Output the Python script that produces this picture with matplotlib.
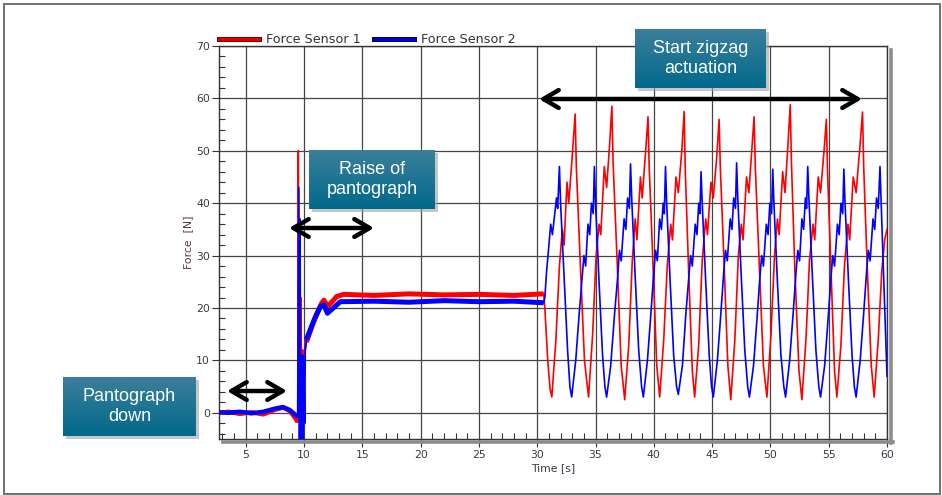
import numpy as np
import matplotlib
matplotlib.use('Agg')
import matplotlib.pyplot as plt
import matplotlib.patheffects as pe
from matplotlib.lines import Line2D
from matplotlib.patches import Rectangle, FancyArrowPatch
from matplotlib.colors import LinearSegmentedColormap

# Force Sensor 1 (red): time [s], force [N]
red_t = [2.7, 3.5, 4.5, 5.5, 6.5, 7.5, 8.2, 8.8, 9.3, 9.45,
         9.5, 9.55, 9.6, 9.66, 9.72, 9.8, 9.88, 9.95, 10.05, 10.2,
         10.6, 11.0, 11.5, 11.7, 12.0, 12.4, 12.8, 13.4,
         16.0, 19.0, 22.0, 25.0, 28.0, 30.55,
         30.65, 30.9, 31.1, 31.25,
         31.6, 31.9, 32.15, 32.3, 32.55, 32.7, 33.0, 33.25, 33.35, 33.7, 34.05, 34.4,
         34.75, 35.05, 35.3, 35.45, 35.75, 35.95, 36.2, 36.4, 36.5, 36.85, 37.2, 37.5,
         37.85, 38.15, 38.4, 38.55, 38.85, 39.0, 39.3, 39.5, 39.6, 39.95, 40.25, 40.5,
         40.85, 41.15, 41.45, 41.6, 41.9, 42.1, 42.4, 42.6, 42.7, 43.0, 43.3, 43.5,
         43.85, 44.15, 44.45, 44.6, 44.9, 45.1, 45.4, 45.6, 45.7, 46.05, 46.35, 46.6,
         46.95, 47.25, 47.5, 47.65, 47.95, 48.15, 48.4, 48.6, 48.7, 49.05, 49.4, 49.7,
         50.05, 50.35, 50.6, 50.75, 51.05, 51.25, 51.5, 51.7, 51.8, 52.1, 52.45, 52.7,
         53.05, 53.35, 53.65, 53.8, 54.1, 54.3, 54.6, 54.8, 54.9, 55.2, 55.5, 55.7,
         56.05, 56.35, 56.65, 56.8, 57.1, 57.35, 57.65, 57.9, 58.0, 58.3, 58.65, 58.9,
         59.25, 59.55, 59.8, 60.0]
red_f = [0.0, 0.2, -0.2, 0.1, -0.3, 0.6, 1.0, 0.3, -1.2, -1.8,
         50, 8, 30, -3, 22, 3, 12, 9, 11, 13.5,
         16, 18.5, 20.9, 21.5, 20.3, 21.2, 22.2, 22.6,
         22.4, 22.7, 22.5, 22.6, 22.4, 22.7,
         20, 10, 4.5, 3,
         14, 28, 35, 32, 44, 40, 49, 57, 47, 28, 10, 3,
         15, 30, 36, 34, 47, 43, 51, 58.5, 48, 29, 9, 2.5,
         13, 29, 37, 33, 45, 41, 50, 56.5, 47, 27, 9, 3,
         14, 28, 36, 33, 45, 42, 50, 57.5, 46, 26, 8, 3,
         13, 29, 37, 34, 44, 41, 49, 56, 47, 27, 9, 2.5,
         14, 30, 36, 33, 45, 42, 50, 56.5, 47, 28, 9, 3,
         15, 30, 37, 34, 46, 42, 51, 58.8, 48, 27, 8, 2.5,
         14, 29, 36, 33, 45, 42, 50, 56, 46, 27, 8, 3,
         13, 28, 36, 33, 45, 42, 50, 57.4, 47, 28, 9, 3,
         14, 27, 33, 35]

# Force Sensor 2 (blue)
blue_t = [2.7, 3.5, 4.5, 5.5, 6.5, 7.5, 8.2, 8.8, 9.2, 9.45,
          9.55, 9.6, 9.65, 9.72, 9.78, 9.83, 9.88, 9.93, 9.98, 10.05, 10.1, 10.2,
          10.8, 11.4, 11.7, 12.0, 12.5, 13.1,
          16.0, 19.0, 22.0, 25.0, 28.0, 30.55,
          30.65, 30.8, 31.0, 31.15, 31.3, 31.5, 31.65, 31.75, 31.9, 32.0, 32.3, 32.6, 32.8, 32.95,
          33.3, 33.6, 33.85, 34.0, 34.15, 34.35, 34.5, 34.65, 34.8, 34.9, 35.0, 35.3, 35.6, 35.8, 35.95,
          36.3, 36.6, 36.9, 37.05, 37.2, 37.45, 37.6, 37.75, 37.9, 38.0, 38.1, 38.4, 38.7, 38.95, 39.1,
          39.45, 39.75, 40.0, 40.15, 40.3, 40.5, 40.65, 40.8, 40.9, 41.0, 41.1, 41.4, 41.7, 41.95, 42.1,
          42.45, 42.75, 43.0, 43.15, 43.3, 43.55, 43.7, 43.85, 43.95, 44.05, 44.15, 44.45, 44.75, 44.95, 45.1,
          45.45, 45.75, 46.0, 46.15, 46.3, 46.55, 46.7, 46.85, 47.0, 47.1, 47.2, 47.5, 47.8, 48.05, 48.2,
          48.55, 48.85, 49.1, 49.25, 49.4, 49.65, 49.8, 49.95, 50.1, 50.2, 50.3, 50.6, 50.9, 51.15, 51.3,
          51.65, 51.95, 52.2, 52.35, 52.5, 52.7, 52.85, 53.0, 53.1, 53.2, 53.3, 53.6, 53.9, 54.15, 54.3,
          54.65, 54.95, 55.2, 55.35, 55.5, 55.75, 55.9, 56.05, 56.2, 56.3, 56.4, 56.7, 57.0, 57.2, 57.35,
          57.7, 58.0, 58.25, 58.4, 58.55, 58.8, 58.95, 59.1, 59.25, 59.4, 59.5, 59.8, 60.0]
blue_f = [0.1, 0.0, 0.2, -0.1, 0.2, 0.8, 1.1, 0.5, -0.3, -0.8,
          43, -5.5, 37, -6, 11, -6, 11, -6, 10, -2, 12, 14,
          17.4, 20.3, 20.6, 19.0, 20.0, 21.2,
          21.3, 21.1, 21.4, 21.2, 21.3, 21.0,
          22, 27, 32, 36, 34, 38, 41, 39, 47, 40, 26, 12, 5, 3,
          10, 19, 26, 30, 28, 36, 34, 40, 38, 47, 40, 25, 11, 5, 3,
          9, 18, 26, 31, 29, 37, 35, 41, 39, 47.5, 41, 26, 12, 5, 3,
          10, 19, 27, 31, 29, 37, 35, 40, 38, 47, 40, 25, 11, 5, 3.5,
          9, 19, 26, 30, 28, 36, 34, 40, 38, 46, 40, 25, 11, 5, 3,
          10, 19, 27, 31, 29, 37, 35, 41, 39, 47.7, 41, 26, 12, 5, 3,
          9, 18, 26, 30, 28, 36, 34, 40, 38, 46.5, 40, 25, 11, 5, 3,
          10, 19, 27, 31, 29, 37, 35, 41, 39, 47, 41, 26, 12, 5, 3,
          9, 18, 26, 30, 28, 36, 34, 40, 38, 46.5, 40, 25, 11, 5, 3,
          10, 19, 27, 31, 29, 37, 35, 41, 39, 47, 40, 20, 7]

W, H = 942, 495


def fx(x):
    return x / W


def fy(y):
    return 1 - y / H


fig = plt.figure(figsize=(W / 100, H / 100), dpi=100)
fig.patch.set_facecolor('white')
ax = fig.add_axes([fx(219), fy(439), fx(887) - fx(219), fy(46) - fy(439)])

rt, rf = np.array(red_t), np.array(red_f)
bt, bf = np.array(blue_t), np.array(blue_f)

# thin line for the whole signal, thicker line where the noise band is
for t, f, c in [(rt, rf, '#ff0000'), (bt, bf, '#0000ff')]:
    ax.plot(t, f, color=c, lw=1.2, zorder=3)
    m1 = t <= 9.46
    m2 = (t >= 10.2) & (t <= 30.56)
    ax.plot(t[m1], f[m1], color=c, lw=3.2, zorder=3, solid_capstyle='butt')
    ax.plot(t[m2], f[m2], color=c, lw=3.6, zorder=3, solid_capstyle='butt')

ax.set_xlim(2.7, 60)
ax.set_ylim(-5, 70)
ax.set_xticks(np.arange(5, 61, 5))
ax.set_yticks(np.arange(0, 71, 10))
ax.set_xticks(np.arange(3, 60, 1), minor=True)
ax.set_yticks(np.arange(-4, 70, 2), minor=True)
ax.grid(True, which='major', color='#454545', lw=0.9, zorder=1)
ax.set_axisbelow(True)

ax.tick_params(which='major', direction='out', length=5, width=0.8,
               color='#333333', labelsize=7.8, labelcolor='#3a3a48', pad=1.5)
ax.tick_params(which='minor', direction='in', length=4, width=0.8, color='#333333')
ax.tick_params(axis='x', which='major', length=6, pad=2)

for s in ax.spines.values():
    s.set_color('#333333')
    s.set_linewidth(1.0)

ax.set_ylabel('Force  [N]', fontsize=7.8, color='#5a3c3c', labelpad=2)
ax.set_xlabel('Time [s]', fontsize=7.8, color='#3a3a48', labelpad=2)

# grey shadow on the bottom and right border
fig.add_artist(Line2D([fx(223), fx(893)], [fy(441.5), fy(441.5)], color='#8c8c8c', lw=2.6))
fig.add_artist(Line2D([fx(891), fx(891)], [fy(50), fy(443)], color='#8c8c8c', lw=2.6))

# outer frame
fig.add_artist(Rectangle((fx(4), fy(494)), fx(940) - fx(4), fy(4) - fy(494),
                         fill=False, edgecolor='#707070', lw=1.4))

# legend
h1 = Line2D([], [], color='#e00000', lw=2.4,
            path_effects=[pe.Stroke(linewidth=3.6, foreground='#700000'), pe.Normal()])
h2 = Line2D([], [], color='#0000d0', lw=2.4,
            path_effects=[pe.Stroke(linewidth=3.6, foreground='#000060'), pe.Normal()])
ax.legend([h1, h2], ['Force Sensor 1', 'Force Sensor 2'], loc='lower left',
          bbox_to_anchor=(0.0, 1.0), ncol=2, frameon=False, fontsize=9.2,
          handlelength=3.1, handletextpad=0.55, columnspacing=1.1,
          borderpad=0, borderaxespad=0, labelcolor='#333333')

# annotation boxes
cmap = LinearSegmentedColormap.from_list('teal', ['#3a7f9b', '#02698b'])
grad = np.linspace(0, 1, 64).reshape(-1, 1)


def label_box(x0, y0, x1, y1, text):
    sh = Rectangle((fx(x0 + 3), fy(y1 + 3)), fx(x1) - fx(x0), fy(y0) - fy(y1),
                   facecolor='#a0a0a0', edgecolor='none', alpha=0.6, zorder=8)
    fig.add_artist(sh)
    bax = fig.add_axes([fx(x0), fy(y1), fx(x1) - fx(x0), fy(y0) - fy(y1)], zorder=10)
    bax.imshow(grad, aspect='auto', cmap=cmap, extent=(0, 1, 0, 1), origin='upper')
    bax.set_axis_off()
    bax.text(0.5, 0.5, text, ha='center', va='center', color='white',
             fontsize=13, family='Liberation Sans', linespacing=1.25,
             transform=bax.transAxes)


label_box(63, 377, 196, 436, 'Pantograph\ndown')
label_box(309, 150, 435, 209, 'Raise of\npantograph')
label_box(635, 29, 766, 88, 'Start zigzag\nactuation')

# double arrows
for x0, x1, y in [(227, 287, 391), (289, 374, 228), (539, 862, 99)]:
    arr = FancyArrowPatch((fx(x0), fy(y)), (fx(x1), fy(y)), transform=fig.transFigure,
                          arrowstyle='<->,head_length=0.55,head_width=0.32',
                          mutation_scale=20, lw=3.2, color='black',
                          shrinkA=0, shrinkB=0, zorder=12)
    fig.add_artist(arr)

plt.savefig('out.png', dpi=100)
